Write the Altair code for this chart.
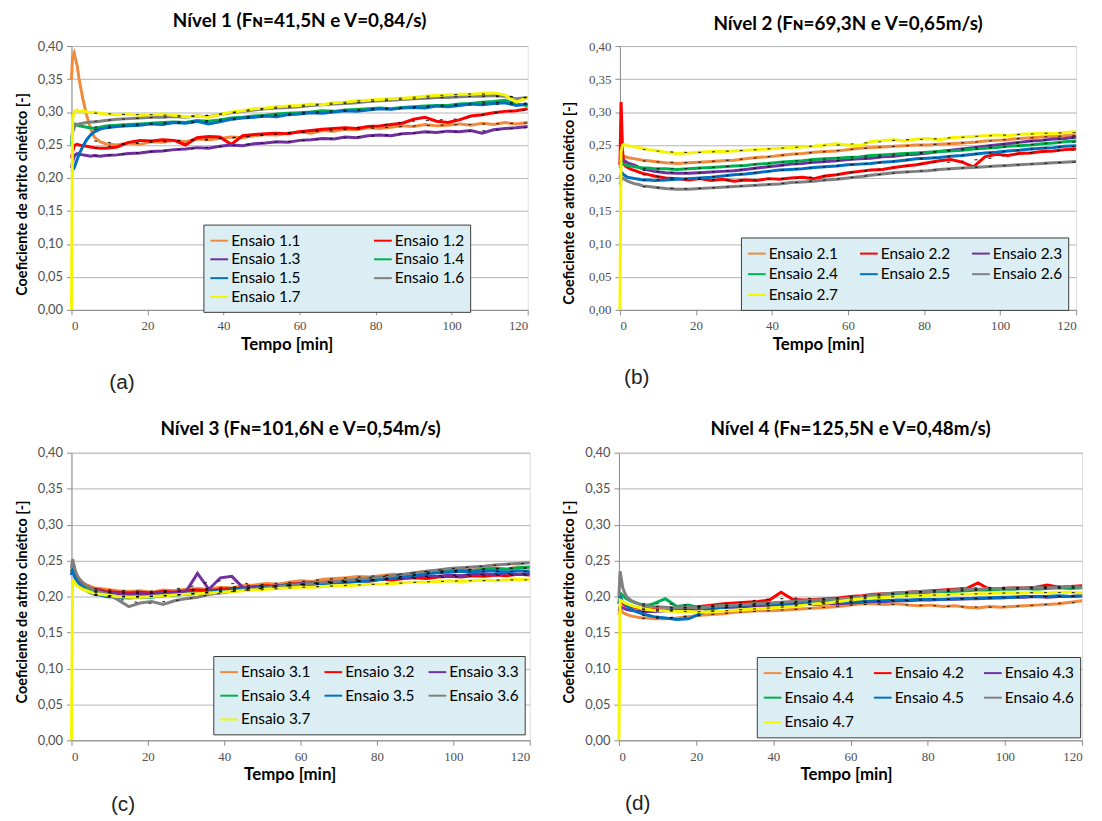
import altair as alt
import pandas as pd

# ---- data -------------------------------------------------------------
TEMPO = [0, 0.3, 0.7, 1, 1.5, 2, 3, 4, 5, 6, 7.5,
         9, 12, 15, 18, 21, 24, 27, 30, 33, 36, 39, 42, 45, 48, 51, 54, 57, 60,
         63, 66, 69, 72, 75, 78, 81, 84, 87, 90, 93, 96, 99, 102, 105, 108,
         111, 114, 117, 120]

CORES = ["#F08A3C", "#FF0000", "#7030A0", "#00B050", "#0070C0", "#808080", "#F5F500"]

TITULOS = [
    "Nível 1 (Fɴ=41,5N e V=0,84/s)",
    "Nível 2 (Fɴ=69,3N e V=0,65m/s)",
    "Nível 3 (Fɴ=101,6N e V=0,54m/s)",
    "Nível 4 (Fɴ=125,5N e V=0,48m/s)",
]
LEGENDAS = ["(a)", "(b)", "(c)", "(d)"]
Y_TICKS = [0, 0.05, 0.1, 0.15, 0.2, 0.25, 0.3, 0.35, 0.4]
X_TICKS = [0, 20, 40, 60, 80, 100, 120]

# Nível 1
s1_1 = [0.35, 0.385, 0.39, 0.382, 0.37, 0.35, 0.32, 0.295, 0.275, 0.262, 0.255,
        0.252, 0.25, 0.253, 0.251, 0.255, 0.254, 0.257, 0.255, 0.259, 0.258,
        0.26, 0.262, 0.261, 0.264, 0.266, 0.265, 0.268, 0.27, 0.268, 0.272,
        0.271, 0.274, 0.273, 0.276, 0.275, 0.277, 0.279, 0.278, 0.281, 0.279,
        0.28, 0.282, 0.28, 0.283, 0.281, 0.284, 0.282, 0.284]
s1_2 = [0.23, 0.24, 0.248, 0.25, 0.251, 0.25, 0.249, 0.248, 0.247, 0.246, 0.245,
        0.245, 0.247, 0.254, 0.257, 0.256, 0.258, 0.257, 0.25, 0.261, 0.263,
        0.262, 0.251, 0.264, 0.266, 0.267, 0.268, 0.267, 0.27, 0.272, 0.274,
        0.275, 0.276, 0.275, 0.278, 0.279, 0.281, 0.283, 0.289, 0.292, 0.286,
        0.284, 0.288, 0.294, 0.296, 0.299, 0.301, 0.302, 0.305]
s1_3 = [0.215, 0.225, 0.232, 0.235, 0.237, 0.236, 0.235, 0.234, 0.233, 0.234, 0.233,
        0.234, 0.235, 0.237, 0.238, 0.24, 0.241, 0.243, 0.244, 0.246, 0.245,
        0.248, 0.25, 0.249, 0.252, 0.253, 0.255, 0.254, 0.257, 0.258, 0.26,
        0.259, 0.262, 0.261, 0.264, 0.265, 0.264, 0.267, 0.268, 0.27, 0.269,
        0.271, 0.27, 0.272, 0.268, 0.273, 0.275, 0.276, 0.278]
s1_4 = [0.25, 0.27, 0.28, 0.282, 0.28, 0.279, 0.278, 0.277, 0.276, 0.275, 0.277,
        0.279, 0.28, 0.281, 0.282, 0.283, 0.284, 0.285, 0.284, 0.287, 0.286,
        0.288, 0.291, 0.292, 0.294, 0.295, 0.297, 0.298, 0.299, 0.3, 0.302,
        0.301, 0.303, 0.304, 0.305, 0.306, 0.305, 0.307, 0.308, 0.309, 0.31,
        0.31, 0.312, 0.313, 0.315, 0.316, 0.318, 0.312, 0.31]
s1_5 = [0.21, 0.212, 0.215, 0.22, 0.228, 0.236, 0.248, 0.258, 0.265, 0.27, 0.274,
        0.276, 0.278, 0.279, 0.28, 0.282, 0.281, 0.284, 0.283, 0.286, 0.282,
        0.285, 0.289, 0.291, 0.292, 0.294, 0.293, 0.296, 0.297, 0.299, 0.298,
        0.3, 0.302, 0.301, 0.303, 0.305, 0.304, 0.306, 0.307, 0.306, 0.309,
        0.308, 0.31, 0.312, 0.311, 0.313, 0.314, 0.31, 0.312]
s1_6 = [0.26, 0.27, 0.275, 0.28, 0.281, 0.282, 0.283, 0.284, 0.285, 0.285, 0.286,
        0.287, 0.289, 0.29, 0.291, 0.292, 0.292, 0.293, 0.292, 0.294, 0.293,
        0.296, 0.299, 0.301, 0.303, 0.305, 0.306, 0.307, 0.308, 0.31, 0.311,
        0.312, 0.313, 0.314, 0.316, 0.317, 0.318, 0.319, 0.32, 0.321, 0.322,
        0.322, 0.323, 0.324, 0.324, 0.325, 0.324, 0.32, 0.322]
s1_7 = [0.0, 0.29, 0.3, 0.302, 0.303, 0.301, 0.302, 0.3, 0.299, 0.3, 0.298,
        0.297, 0.296, 0.297, 0.295, 0.296, 0.297, 0.295, 0.293, 0.294, 0.292,
        0.296, 0.3, 0.302, 0.305, 0.306, 0.308, 0.309, 0.31, 0.312, 0.311,
        0.314, 0.315, 0.317, 0.318, 0.319, 0.32, 0.321, 0.322, 0.324, 0.325,
        0.326, 0.327, 0.327, 0.328, 0.329, 0.326, 0.315, 0.322]

# Nível 2
s2_1 = [0.22, 0.23, 0.232, 0.233, 0.232, 0.231, 0.23, 0.229, 0.228, 0.227, 0.226,
        0.225, 0.223, 0.222, 0.223, 0.224, 0.225, 0.226, 0.227, 0.229, 0.231,
        0.232, 0.234, 0.236, 0.237, 0.239, 0.24, 0.241, 0.243, 0.245, 0.246,
        0.247, 0.248, 0.249, 0.25, 0.25, 0.251, 0.252, 0.253, 0.254, 0.256,
        0.257, 0.258, 0.26, 0.261, 0.262, 0.263, 0.264, 0.265]
s2_2 = [0.22, 0.315, 0.24, 0.222, 0.218, 0.216, 0.213, 0.211, 0.209, 0.207, 0.205,
        0.203, 0.2, 0.199, 0.197, 0.199, 0.196, 0.198, 0.195, 0.197, 0.196,
        0.199, 0.198, 0.2, 0.201, 0.199, 0.203, 0.205, 0.208, 0.21, 0.212,
        0.213, 0.216, 0.218, 0.22, 0.223, 0.226, 0.228, 0.224, 0.217, 0.232,
        0.236, 0.234, 0.237, 0.238, 0.24, 0.241, 0.243, 0.244]
s2_3 = [0.22, 0.226, 0.228, 0.227, 0.225, 0.223, 0.221, 0.219, 0.216, 0.214, 0.212,
        0.21, 0.208, 0.207, 0.207, 0.208, 0.209, 0.21, 0.211, 0.213, 0.215,
        0.217, 0.219, 0.221, 0.222, 0.224, 0.225, 0.226, 0.228, 0.229, 0.23,
        0.232, 0.233, 0.235, 0.236, 0.238, 0.24, 0.242, 0.244, 0.246, 0.248,
        0.25, 0.252, 0.254, 0.256, 0.257, 0.259, 0.26, 0.262]
s2_4 = [0.215, 0.22, 0.222, 0.221, 0.22, 0.219, 0.218, 0.217, 0.216, 0.215, 0.215,
        0.214, 0.214, 0.213, 0.214, 0.215, 0.216, 0.217, 0.218, 0.219, 0.221,
        0.222, 0.224, 0.225, 0.226, 0.228, 0.229, 0.23, 0.231, 0.232, 0.234,
        0.235, 0.236, 0.237, 0.238, 0.239, 0.24, 0.241, 0.242, 0.244, 0.245,
        0.246, 0.248, 0.249, 0.25, 0.252, 0.253, 0.255, 0.256]
s2_5 = [0.2, 0.205, 0.207, 0.205, 0.203, 0.201, 0.2, 0.199, 0.198, 0.197, 0.197,
        0.196, 0.197, 0.198, 0.199, 0.2, 0.201, 0.203, 0.205, 0.206, 0.208,
        0.21, 0.212, 0.213, 0.214, 0.216, 0.217, 0.218, 0.22, 0.221, 0.222,
        0.224, 0.225, 0.227, 0.229, 0.23, 0.231, 0.233, 0.234, 0.236, 0.238,
        0.239, 0.241, 0.242, 0.244, 0.245, 0.246, 0.248, 0.249]
s2_6 = [0.19, 0.197, 0.2, 0.199, 0.197, 0.195, 0.193, 0.191, 0.19, 0.188, 0.187,
        0.186, 0.184, 0.183, 0.183, 0.184, 0.185, 0.186, 0.187, 0.188, 0.189,
        0.19, 0.191, 0.193, 0.194, 0.195, 0.197, 0.198, 0.2, 0.202, 0.204,
        0.206, 0.208, 0.209, 0.21, 0.211, 0.213, 0.214, 0.215, 0.216, 0.217,
        0.218, 0.219, 0.22, 0.221, 0.222, 0.223, 0.224, 0.225]
s2_7 = [0.0, 0.24, 0.25, 0.251, 0.25, 0.249, 0.248, 0.247, 0.246, 0.245, 0.243,
        0.242, 0.239, 0.237, 0.238, 0.239, 0.24, 0.24, 0.241, 0.242, 0.243,
        0.244, 0.245, 0.246, 0.247, 0.248, 0.25, 0.252, 0.25, 0.249, 0.255,
        0.257, 0.258, 0.256, 0.259, 0.26, 0.258, 0.261, 0.262, 0.263, 0.264,
        0.265, 0.264, 0.266, 0.267, 0.268, 0.267, 0.269, 0.27]

# Nível 3
s3_1 = [0.24, 0.245, 0.238, 0.232, 0.227, 0.224, 0.219, 0.216, 0.214, 0.212, 0.211,
        0.21, 0.208, 0.207, 0.208, 0.206, 0.209, 0.208, 0.21, 0.211, 0.21,
        0.213, 0.212, 0.215, 0.216, 0.218, 0.217, 0.22, 0.222, 0.221, 0.224,
        0.225, 0.226, 0.228, 0.227, 0.229, 0.231, 0.23, 0.233, 0.235, 0.236,
        0.235, 0.238, 0.237, 0.239, 0.24, 0.238, 0.241, 0.24]
s3_2 = [0.235, 0.24, 0.235, 0.23, 0.225, 0.221, 0.217, 0.214, 0.212, 0.21, 0.209,
        0.207, 0.206, 0.205, 0.206, 0.205, 0.207, 0.206, 0.208, 0.209, 0.208,
        0.21, 0.211, 0.212, 0.213, 0.215, 0.214, 0.217, 0.218, 0.217, 0.22,
        0.221, 0.22, 0.222, 0.223, 0.224, 0.223, 0.225, 0.226, 0.225, 0.227,
        0.228, 0.227, 0.229, 0.228, 0.23, 0.229, 0.231, 0.23]
s3_3 = [0.23, 0.238, 0.233, 0.228, 0.223, 0.22, 0.216, 0.213, 0.211, 0.209, 0.207,
        0.206, 0.204, 0.203, 0.204, 0.203, 0.205, 0.206, 0.207, 0.232, 0.21,
        0.226, 0.228, 0.212, 0.214, 0.213, 0.215, 0.216, 0.218, 0.219, 0.218,
        0.22, 0.221, 0.222, 0.221, 0.224, 0.225, 0.226, 0.227, 0.229, 0.228,
        0.23, 0.229, 0.231, 0.232, 0.23, 0.233, 0.231, 0.232]
s3_4 = [0.235, 0.24, 0.232, 0.226, 0.221, 0.218, 0.213, 0.21, 0.207, 0.205, 0.203,
        0.201, 0.2, 0.199, 0.2, 0.199, 0.201, 0.202, 0.203, 0.204, 0.206,
        0.207, 0.209, 0.21, 0.211, 0.212, 0.214, 0.215, 0.216, 0.217, 0.218,
        0.219, 0.22, 0.221, 0.223, 0.224, 0.226, 0.228, 0.23, 0.233, 0.235,
        0.236, 0.237, 0.236, 0.238, 0.239, 0.238, 0.24, 0.241]
s3_5 = [0.23, 0.236, 0.23, 0.225, 0.22, 0.217, 0.212, 0.208, 0.205, 0.203, 0.202,
        0.2, 0.199, 0.198, 0.199, 0.2, 0.201, 0.202, 0.203, 0.205, 0.206,
        0.208, 0.209, 0.21, 0.211, 0.213, 0.214, 0.215, 0.216, 0.217, 0.218,
        0.219, 0.22, 0.221, 0.222, 0.224, 0.226, 0.228, 0.23, 0.232, 0.233,
        0.234, 0.235, 0.234, 0.236, 0.235, 0.234, 0.236, 0.235]
s3_6 = [0.24, 0.252, 0.243, 0.236, 0.229, 0.225, 0.219, 0.215, 0.212, 0.209, 0.206,
        0.204, 0.196, 0.186, 0.191, 0.193, 0.189, 0.194, 0.197, 0.199, 0.203,
        0.205, 0.207, 0.209, 0.21, 0.212, 0.214, 0.215, 0.217, 0.218, 0.22,
        0.221, 0.223, 0.224, 0.226, 0.227, 0.229, 0.231, 0.233, 0.235, 0.237,
        0.239, 0.24, 0.241, 0.242, 0.244, 0.245, 0.246, 0.247]
s3_7 = [0.0, 0.222, 0.221, 0.218, 0.215, 0.213, 0.21, 0.208, 0.206, 0.204, 0.203,
        0.202, 0.2, 0.199, 0.199, 0.2, 0.201, 0.202, 0.203, 0.204, 0.205,
        0.206, 0.207, 0.208, 0.209, 0.21, 0.211, 0.212, 0.213, 0.213, 0.214,
        0.215, 0.215, 0.216, 0.217, 0.217, 0.218, 0.219, 0.22, 0.22, 0.221,
        0.222, 0.221, 0.222, 0.223, 0.222, 0.223, 0.224, 0.223]

# Nível 4
s4_1 = [0.175, 0.183, 0.18, 0.178, 0.176, 0.175, 0.173, 0.172, 0.171, 0.17, 0.17,
        0.169, 0.169, 0.17, 0.172, 0.174, 0.175, 0.176, 0.178, 0.179, 0.18,
        0.18, 0.181, 0.182, 0.183, 0.184, 0.185, 0.186, 0.188, 0.19, 0.19,
        0.189, 0.19, 0.188, 0.187, 0.188, 0.186, 0.187, 0.185, 0.184, 0.186,
        0.185, 0.186, 0.187, 0.188, 0.189, 0.19, 0.192, 0.194]
s4_2 = [0.19, 0.195, 0.192, 0.19, 0.188, 0.187, 0.186, 0.185, 0.184, 0.183, 0.183,
        0.182, 0.181, 0.182, 0.184, 0.186, 0.188, 0.19, 0.191, 0.192, 0.193,
        0.195, 0.206, 0.196, 0.195, 0.196, 0.197, 0.198, 0.2, 0.201, 0.203,
        0.204, 0.205, 0.206, 0.207, 0.208, 0.209, 0.21, 0.211, 0.219, 0.21,
        0.211, 0.212, 0.212, 0.213, 0.216, 0.213, 0.214, 0.215]
s4_3 = [0.18, 0.186, 0.185, 0.184, 0.183, 0.182, 0.181, 0.18, 0.18, 0.179, 0.179,
        0.179, 0.18, 0.181, 0.182, 0.183, 0.184, 0.185, 0.185, 0.186, 0.187,
        0.187, 0.188, 0.188, 0.189, 0.189, 0.19, 0.19, 0.191, 0.192, 0.193,
        0.193, 0.194, 0.194, 0.195, 0.195, 0.196, 0.196, 0.197, 0.197, 0.198,
        0.198, 0.199, 0.199, 0.2, 0.199, 0.2, 0.2, 0.201]
s4_4 = [0.19, 0.205, 0.203, 0.201, 0.199, 0.197, 0.194, 0.192, 0.19, 0.189, 0.188,
        0.19, 0.197, 0.186, 0.188, 0.184, 0.186, 0.187, 0.188, 0.189, 0.19,
        0.19, 0.191, 0.192, 0.193, 0.193, 0.194, 0.195, 0.196, 0.198, 0.2,
        0.202, 0.203, 0.204, 0.205, 0.206, 0.207, 0.207, 0.208, 0.209, 0.209,
        0.21, 0.21, 0.211, 0.21, 0.211, 0.212, 0.211, 0.212]
s4_5 = [0.19, 0.2, 0.196, 0.193, 0.19, 0.187, 0.183, 0.18, 0.178, 0.176, 0.174,
        0.172, 0.17, 0.168, 0.169, 0.176, 0.183, 0.185, 0.186, 0.188, 0.189,
        0.19, 0.19, 0.191, 0.19, 0.191, 0.192, 0.192, 0.193, 0.193, 0.194,
        0.194, 0.195, 0.195, 0.196, 0.196, 0.196, 0.197, 0.197, 0.198, 0.198,
        0.199, 0.199, 0.2, 0.2, 0.2, 0.201, 0.2, 0.201]
s4_6 = [0.2, 0.235, 0.222, 0.212, 0.205, 0.2, 0.195, 0.192, 0.19, 0.188, 0.187,
        0.186, 0.185, 0.184, 0.185, 0.184, 0.186, 0.187, 0.188, 0.189, 0.19,
        0.191, 0.192, 0.193, 0.194, 0.195, 0.196, 0.197, 0.198, 0.2, 0.202,
        0.204, 0.205, 0.206, 0.207, 0.207, 0.208, 0.209, 0.21, 0.21, 0.211,
        0.211, 0.212, 0.212, 0.213, 0.212, 0.213, 0.214, 0.213]
s4_7 = [0.0, 0.195, 0.194, 0.193, 0.191, 0.19, 0.188, 0.186, 0.185, 0.183, 0.182,
        0.181, 0.18, 0.179, 0.179, 0.178, 0.179, 0.18, 0.181, 0.182, 0.183,
        0.184, 0.185, 0.186, 0.188, 0.19, 0.191, 0.193, 0.195, 0.197, 0.198,
        0.199, 0.2, 0.201, 0.201, 0.202, 0.202, 0.203, 0.203, 0.204, 0.204,
        0.205, 0.205, 0.205, 0.206, 0.205, 0.206, 0.206, 0.205]

SERIES = [
    [s1_1, s1_2, s1_3, s1_4, s1_5, s1_6, s1_7],
    [s2_1, s2_2, s2_3, s2_4, s2_5, s2_6, s2_7],
    [s3_1, s3_2, s3_3, s3_4, s3_5, s3_6, s3_7],
    [s4_1, s4_2, s4_3, s4_4, s4_5, s4_6, s4_7],
]

# ---- layout parameters (per panel) -----------------------------------
LAYOUT = [
    dict(w=460, h=266, toff=9, lx=133, ly=180, cols=2, cpad=70, rpad=0, tx=217, ty=149,
         ytp=8, yfont="Lato", cx=51, cy=74),
    dict(w=460, h=266, toff=6, lx=122, ly=193, cols=3, cpad=18, rpad=2, tx=200, ty=158,
         ytp=12, yfont="Liberation Serif", cx=17, cy=69),
    dict(w=462, h=290, toff=8, lx=143, ly=205, cols=3, cpad=10, rpad=5, tx=220, ty=150,
         ytp=8, yfont="Lato", cx=52, cy=65),
    dict(w=467, h=290, toff=8, lx=139, ly=206, cols=3, cpad=16, rpad=6, tx=229, ty=150,
         ytp=8, yfont="Lato", cx=19, cy=64),
]


def painel(i):
    nivel = i + 1
    nomes = [f"Ensaio {nivel}.{k}" for k in range(1, 8)]
    rows = []
    for nome, vals in zip(nomes, SERIES[i]):
        if len(vals) != len(TEMPO):
            raise ValueError(f"{nome}: {len(vals)} values")
        for t, v in zip(TEMPO, vals):
            rows.append({"t": t, "mu": v, "serie": nome})
    df = pd.DataFrame(rows)
    L = LAYOUT[i]

    x_enc = alt.X(
        "t:Q",
        scale=alt.Scale(domain=[0, 120], nice=False),
        axis=alt.Axis(
            values=X_TICKS, tickCount=10, grid=False, title="Tempo [min]", titleX=L["tx"],
            titleFont="Lato", titleFontSize=17, titleFontWeight="bold", titleColor="#000000",
            titlePadding=4, labelFont="Liberation Serif", labelFontSize=13,
            labelColor="#505050", labelPadding=5, tickSize=5, tickColor="#8c8c8c",
            domainColor="#8c8c8c", labelOverlap=False,
        ),
    )
    y_enc = alt.Y(
        "mu:Q",
        scale=alt.Scale(domain=[0, 0.4], nice=False),
        axis=alt.Axis(
            values=Y_TICKS, tickCount=12, grid=True, gridColor="#b4b4b4", gridWidth=1,
            title="Coeficiente de atrito cinético [-]", titleY=L["ty"],
            titleFont="Lato", titleFontSize=14.5, titleFontWeight="bold", titleColor="#000000",
            titlePadding=L["ytp"], labelOverlap=False,
            labelExpr="replace(format(datum.value, '.2f'), '.', ',')",
            labelFont=L["yfont"], labelFontSize=13, labelColor="#505050",
            labelPadding=4, tickSize=5, tickColor="#8c8c8c", domainColor="#8c8c8c",
        ),
    )
    cor = alt.Color(
        "serie:N",
        scale=alt.Scale(domain=nomes, range=CORES),
        legend=alt.Legend(
            title=None, orient="none", legendX=L["lx"], legendY=L["ly"],
            direction="horizontal",
            columns=L["cols"], columnPadding=L["cpad"], rowPadding=L["rpad"],
            padding=6, fillColor="#DBEEF4", strokeColor="#3a3a3a",
            symbolType="stroke", symbolSize=320, symbolStrokeWidth=2,
            labelFont="Lato", labelFontSize=15.5, labelColor="#000000", labelOffset=2,
        ),
    )

    linhas = alt.Chart(df).mark_line(strokeWidth=3).encode(
        x=x_enc, y=y_enc, color=cor, order="t:Q"
    )
    tendencia = (
        alt.Chart(df)
        .transform_filter("datum.t >= 6")
        .transform_window(mm="mean(mu)", frame=[-2, 2], groupby=["serie"],
                          sort=[alt.SortField("t")])
        .mark_line(color="#000000", strokeWidth=1.2, strokeDash=[3, 11], opacity=0.75)
        .encode(x="t:Q", y="mm:Q", detail="serie:N", order="t:Q")
    )
    rotulo = (
        alt.Chart(pd.DataFrame({"c": [LEGENDAS[i]]}))
        .mark_text(font="Liberation Sans", fontSize=21, color="#222222",
                   align="center", baseline="middle")
        .encode(text="c:N", x=alt.value(L["cx"]), y=alt.value(L["h"] + L["cy"]))
    )
    return alt.layer(linhas, tendencia, rotulo).properties(
        width=L["w"], height=L["h"],
        title=alt.Title(TITULOS[i], font="Lato", fontSize=19, fontWeight="bold",
                        color="#000000", anchor="middle", frame="group",
                        offset=L["toff"]),
    )


ind = dict(color="independent", x="independent", y="independent")
linha1 = alt.hconcat(painel(0), painel(1), spacing=26).resolve_scale(**ind)
linha2 = alt.hconcat(painel(2), painel(3), spacing=24).resolve_scale(**ind)
chart = (
    alt.vconcat(linha1, linha2, spacing=25)
    .resolve_scale(**ind)
    .properties(padding={"left": 5, "top": 0, "right": 5, "bottom": 5})
    .configure_view(stroke=None)
    .configure(background="#ffffff")
)

chart.save("out.html", embed_options={"renderer": "svg", "actions": False})
